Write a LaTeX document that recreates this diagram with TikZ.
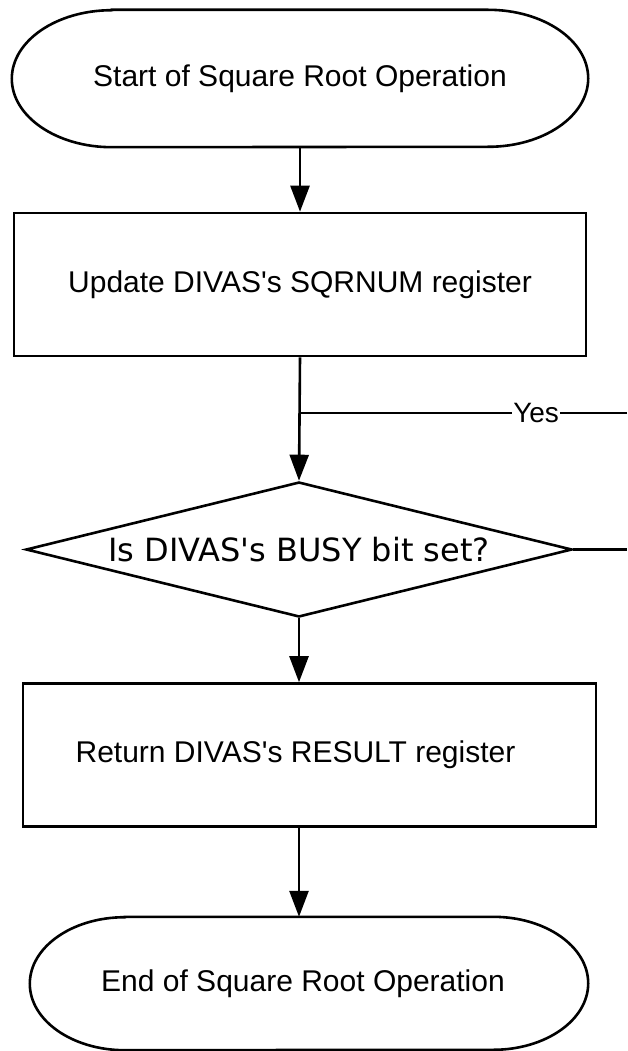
\documentclass[tikz,border=0pt]{standalone}
\usepackage{fontspec}
\setmainfont{Liberation Sans}
\newfontfamily\decfont{DejaVu Sans}
\usetikzlibrary{shapes.geometric,arrows.meta,calc}

\tikzset{
  x=1pt, y=1pt,
  line/.style={line width=2.6pt, draw=black, line join=miter},
  arr/.style={line, -{Triangle[width=19pt,length=26pt]}},
  boxfont/.style={font=\fontsize{30}{36}\selectfont},
  terminal/.style={boxfont, inner sep=0pt, minimum width=#1},
  process/.style={boxfont, line, rectangle, inner sep=0pt, minimum width=573pt, minimum height=143pt},
  decision/.style={line, diamond, aspect=4.05, inner sep=0pt,
    minimum width=546pt, minimum height=135pt,
    font=\decfont\fontsize{32}{38}\selectfont},
  yeslabel/.style={fill=white, inner sep=1pt, font=\fontsize{28}{32}\selectfont}
}

% stadium outline around a terminal node: name, cap x radius, cap y radius
\newcommand\stadiumoutline[3]{%
  \draw[line] ($(#1.north west)+(#2,0)$) -- ($(#1.north east)+(-#2,0)$)
    arc[start angle=90, end angle=-90, x radius=#2, y radius=#3]
    -- ($(#1.south west)+(#2,0)$)
    arc[start angle=-90, end angle=-270, x radius=#2, y radius=#3] -- cycle;}

\begin{document}
\begin{tikzpicture}
  \useasboundingbox (0,0) rectangle (627,-1051);

  % start terminal
  \node[terminal=576pt, minimum height=137pt] (start) at (300,-78.5)
    {Start of Square Root Operation};
  \stadiumoutline{start}{100}{68.5}

  % update step
  \node[process, minimum width=572pt] (upd) at (300,-284.5)
    {Update DIVAS\textquotesingle s SQRNUM register};

  % busy test
  \node[decision] (dec) at (299,-549.5) {Is DIVAS's BUSY bit set?};

  % return step
  \node[process] (ret) at (309.5,-755)
    {Return DIVAS\textquotesingle s RESULT register\hspace*{28pt}};

  % end terminal
  \node[terminal=558pt, minimum height=133pt] (end) at (309,-983.5)
    {End of Square Root Operation\hspace*{12pt}};
  \stadiumoutline{end}{95}{66.5}

  % loop-back ends at the right margin
  \coordinate (yesR) at (627,-413);
  \coordinate (jn) at (upd.south |- yesR);
  \coordinate (decR) at (dec.east -| yesR);

  % connectors
  \draw[arr] (start.south) -- (upd.north);
  \draw[arr] (upd.south) -- (dec.north);
  \draw[line] (yesR) -- node[yeslabel, pos=0.278] {Yes} (jn);
  \draw[line] (dec.east) -- (decR);
  \draw[arr] (dec.south) -- (dec.south |- ret.north);
  \draw[arr] (dec.south |- ret.south) -- (dec.south |- end.north);
\end{tikzpicture}
\end{document}
